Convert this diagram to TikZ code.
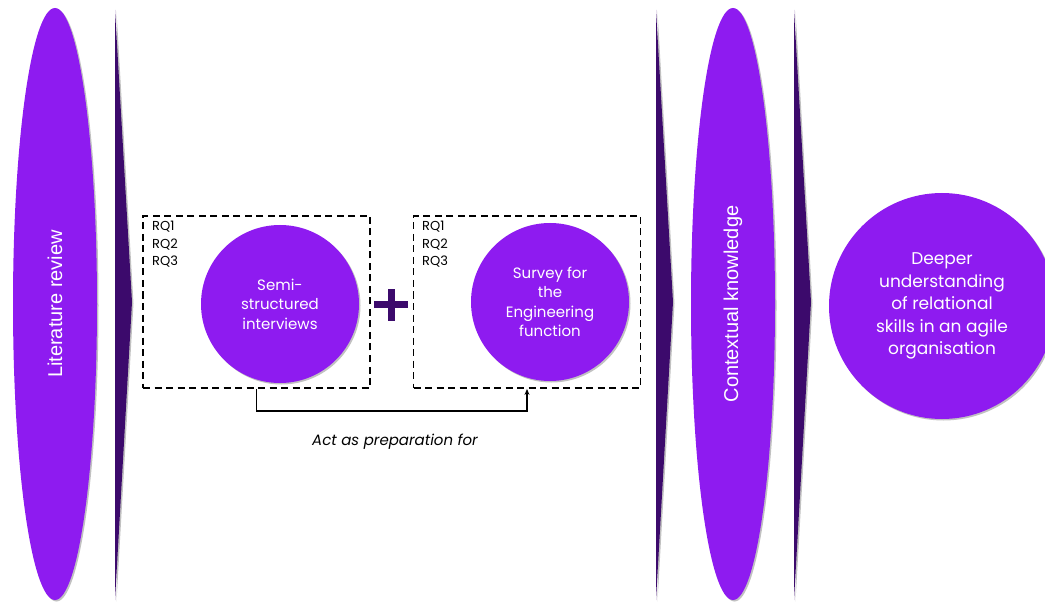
\documentclass[tikz,border=0pt]{standalone}
\usepackage{fontspec}
\setmainfont{Poppins}
\newfontfamily\arialfont{Liberation Sans}
\usetikzlibrary{shapes.geometric,shadows,arrows.meta}
\definecolor{brightpurple}{RGB}{142,27,240}
\definecolor{darkpurple}{RGB}{60,10,108}

\begin{document}
\begin{tikzpicture}[x=1pt, y=-1pt,
    softshadow/.style={drop shadow={shadow xshift=1.5pt, shadow yshift=-1.5pt, opacity=0.35, fill=black!70}},
    phase/.style={ellipse, fill=brightpurple, text=white, rotate=90, inner sep=0pt,
      minimum width=592pt, minimum height=84pt, font=\arialfont\fontsize{20}{24}\selectfont, softshadow},
    method/.style={circle, fill=brightpurple, text=white, minimum size=158pt, inner sep=0pt,
      align=center, font=\fontsize{15}{19.5}\selectfont, softshadow},
    scopebox/.style={draw, dash pattern=on 7pt off 4.5pt, line width=1.9pt, minimum width=227pt, minimum height=172pt, inner sep=0pt},
    rqlist/.style={align=left, inner sep=0pt, font=\fontsize{13}{17.5}\selectfont}
    ]
    \useasboundingbox (0,0) rectangle (1045,604);

    % chevrons between the stages
    \foreach \x in {115,656,794}
      \fill[darkpurple, softshadow] (\x,10) -- (\x+17,302) -- (\x,600) -- cycle;

    \node[phase] (lit) at (55,304) {Literature review};
    \node[phase] (ctx) at (733,304) {Contextual knowledge};

    \node[scopebox] (box1) at (256.5,302) {};
    \node[scopebox] (box2) at (527,302) {};
    \node[rqlist, anchor=north west] (rq1) at (152,221) {RQ1\\RQ2\\RQ3};
    \node[rqlist, anchor=north west] (rq2) at (422,221) {RQ1\\RQ2\\RQ3};

    \node[method] (interviews) at (280,304) {Semi-\\structured\\interviews};
    \node[method] (survey) at (550,302) {Survey for\\the\\Engineering\\function};

    \node[method, minimum size=226pt, font=\fontsize{17}{22.5}\selectfont] (result) at (942,306)
      {Deeper\\understanding\\of relational\\skills in an agile\\organisation};

    % plus sign
    \coordinate (plus) at (391,305);
    \draw[darkpurple, line width=7pt] ([xshift=-17pt]plus) -- ([xshift=17pt]plus)
      ([yshift=-16pt]plus) -- ([yshift=16pt]plus);

    \draw[line width=1.8pt, -{Stealth[length=6pt, width=5pt]}] (box1.south) -- ++(0,22) -| (box2.south);
    \node[font=\itshape\fontsize{15}{18}\selectfont] (prep) at (395,442) {Act as preparation for};
  \end{tikzpicture}
\end{document}
